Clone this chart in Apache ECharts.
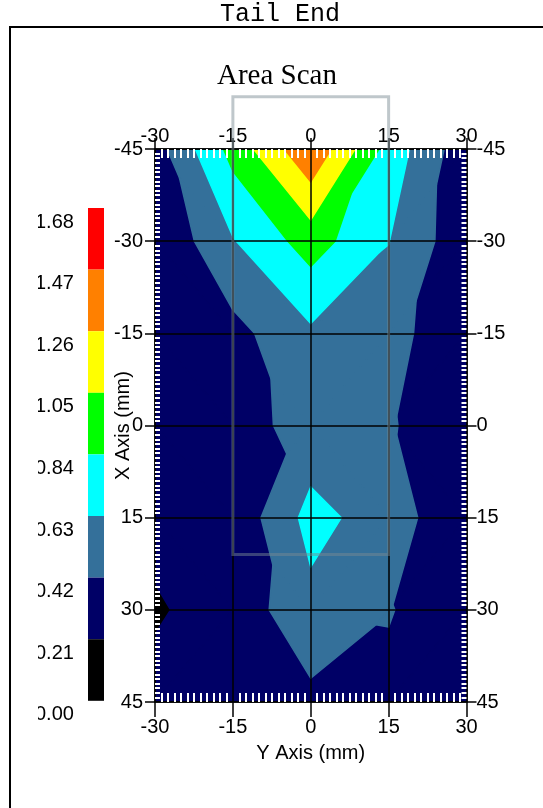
<!DOCTYPE html>
<html>
<head>
<meta charset="utf-8">
<script src="https://cdn.jsdelivr.net/npm/echarts@6/dist/echarts.min.js"></script>
<style>
html,body{margin:0;padding:0;background:#fff;}
#chart{width:543px;height:808px;}
</style>
</head>
<body>
<div id="chart"></div>
<script>
// ---- data (node grid of the area scan, mm) ----
const xNodes = [-30, -15, 0, 15, 30];          // "Y Axis (mm)"
const yNodes = [-45, -30, -15, 0, 15, 30, 45];  // "X Axis (mm)"
const rowM45 = [0.33, 0.91, 1.44, 0.755, 0.285];
const rowM30 = [0.22, 0.616, 0.933, 0.635, 0.273];
const rowM15 = [0.28, 0.353, 0.594, 0.50, 0.25];
const row0   = [0.27, 0.344, 0.49, 0.44, 0.273];
const row15  = [0.26, 0.2625, 0.70, 0.522, 0.249];
const row30  = [0.19, 0.29, 0.569, 0.43, 0.305];
const row45  = [0.265, 0.30, 0.368, 0.376, 0.30];
const levels = [0.00, 0.21, 0.42, 0.63, 0.84, 1.05, 1.26, 1.47, 1.68];
const levelColors = ['#000000', '#000066', '#34709a', '#00ffff', '#00ff00', '#ffff00', '#ff8000', '#ff0000'];
const scanAreaX = [-15, 15];
const scanAreaY = [-53.5, 21];

const values = [rowM45, rowM30, rowM15, row0, row15, row30, row45];

// ---- filled contour bands by linear interpolation on triangles ----
function clipPoly(poly, dist) {
  const out = [];
  const n = poly.length;
  for (let i = 0; i < n; i++) {
    const cur = poly[i], prev = poly[(i + n - 1) % n];
    const dc = dist(cur), dp = dist(prev);
    const cross = () => {
      const t = dp / (dp - dc);
      return {x: prev.x + t * (cur.x - prev.x), y: prev.y + t * (cur.y - prev.y), v: prev.v + t * (cur.v - prev.v)};
    };
    if (dc >= 0) {
      if (dp < 0) out.push(cross());
      out.push(cur);
    } else if (dp >= 0) {
      out.push(cross());
    }
  }
  return out;
}
function buildBands() {
  const bands = levelColors.map(() => []);
  const P = (i, j) => ({x: xNodes[i], y: yNodes[j], v: values[j][i]});
  for (let j = 0; j < yNodes.length - 1; j++) {
    for (let i = 0; i < xNodes.length - 1; i++) {
      const tl = P(i, j), tr = P(i + 1, j), bl = P(i, j + 1), br = P(i + 1, j + 1);
      const tris = Math.abs(tl.v - br.v) <= Math.abs(tr.v - bl.v)
        ? [[tl, tr, br], [tl, br, bl]]
        : [[tl, tr, bl], [tr, br, bl]];
      tris.forEach(t => {
        for (let k = 0; k < bands.length; k++) {
          let poly = clipPoly(t, p => p.v - levels[k]);
          if (poly.length < 3) continue;
          if (k < bands.length - 1) poly = clipPoly(poly, p => levels[k + 1] - p.v);
          if (poly.length >= 3) bands[k].push(poly);
        }
      });
    }
  }
  return bands;
}
const bandPolys = buildBands();
const bandData = bandPolys.map((p, k) => ({value: [(levels[k] + levels[k + 1]) / 2, k]}));

// ---- layout ----
const legendLeft = 88, legendTop = 208, legendW = 16, legendH = 61.6;
const labelFont = 'Liberation Sans';

const chart = echarts.init(document.getElementById('chart'), null, {renderer: 'canvas'});

const baseAxis = {
  type: 'value', z: 10,
  axisLine: {show: true, onZero: false, lineStyle: {color: '#000', width: 1.5}},
  axisTick: {show: true, length: 10, lineStyle: {color: '#000', width: 1.5}},
  axisLabel: {show: true, color: '#000', fontFamily: labelFont, fontSize: 20},
  splitLine: {show: false}
};
const minorAxis = (extra) => Object.assign({
  type: 'value', z: 11,
  axisLine: {show: false, onZero: false},
  axisTick: {show: false, inside: true},
  axisLabel: {show: false},
  splitLine: {show: false}
}, extra);

const legendLabels = levels.slice().reverse().map((v, i) => ({
  type: 'text', z: 50,
  x: 35, y: legendTop + i * legendH + 14,
  style: {text: v.toFixed(2), font: '20px "' + labelFont + '"', fill: '#000', textAlign: 'left', textVerticalAlign: 'middle'}
}));

const option = {
  animation: false,
  backgroundColor: '#fff',
  grid: {left: 155, top: 149, width: 311.5, height: 553, containLabel: false, outerBoundsMode: 'none'},
  xAxis: [
    Object.assign({}, baseAxis, {
      min: -30, max: 30, interval: 15, position: 'bottom',
      axisTick: {show: true, length: 15, lineStyle: {color: '#000', width: 1.5}},
      axisLabel: {color: '#000', fontFamily: labelFont, fontSize: 20, margin: 15},
      splitLine: {show: true, lineStyle: {color: '#000', width: 1.5}},
      name: 'Y Axis (mm)', nameLocation: 'middle', nameGap: 41, nameMoveOverlap: false,
      nameTextStyle: {color: '#000', fontFamily: labelFont, fontSize: 20}
    }),
    Object.assign({}, baseAxis, {
      min: -30, max: 30, interval: 15, position: 'top',
      axisTick: {show: true, length: 11, lineStyle: {color: '#000', width: 1.5}},
      axisLabel: {color: '#000', fontFamily: labelFont, fontSize: 20, margin: 3}
    }),
    minorAxis({min: -30, max: 30, interval: 15, position: 'bottom',
      minorTick: {show: true, splitNumber: 12, length: 9, lineStyle: {color: '#fff', width: 2}}}),
    minorAxis({min: -30, max: 30, interval: 15, position: 'top',
      minorTick: {show: true, splitNumber: 12, length: 9, lineStyle: {color: '#fff', width: 2}}})
  ],
  yAxis: [
    Object.assign({}, baseAxis, {
      min: -45, max: 45, interval: 15, inverse: true, position: 'left',
      axisLabel: {color: '#000', fontFamily: labelFont, fontSize: 20, margin: 12},
      splitLine: {show: true, lineStyle: {color: '#000', width: 1.5}},
      name: 'X Axis (mm)', nameLocation: 'middle', nameGap: 22, nameRotate: 90, nameMoveOverlap: false,
      nameTextStyle: {color: '#000', fontFamily: labelFont, fontSize: 20}
    }),
    Object.assign({}, baseAxis, {
      min: -45, max: 45, interval: 15, inverse: true, position: 'right',
      axisLabel: {color: '#000', fontFamily: labelFont, fontSize: 20, margin: 10}
    }),
    minorAxis({min: -45, max: 45, interval: 15, inverse: true, position: 'left',
      minorTick: {show: true, splitNumber: 20, length: 5, lineStyle: {color: '#fff', width: 2}}}),
    minorAxis({min: -45, max: 45, interval: 15, inverse: true, position: 'right',
      minorTick: {show: true, splitNumber: 20, length: 5, lineStyle: {color: '#fff', width: 2}}})
  ],
  visualMap: {
    type: 'piecewise', seriesIndex: 0, dimension: 0, orient: 'vertical',
    left: legendLeft, top: legendTop, padding: 0,
    itemWidth: legendW, itemHeight: legendH, itemGap: 0, itemSymbol: 'rect',
    showLabel: false, selectedMode: false, hoverLink: false,
    pieces: levelColors.map((c, k) => ({gte: levels[k], lt: levels[k + 1], color: c}))
  },
  series: [
    {
      type: 'custom', name: 'contour', coordinateSystem: 'cartesian2d', xAxisIndex: 0, yAxisIndex: 0,
      z: 1, clip: true, silent: true,
      data: bandData,
      renderItem: (params, api) => {
        const k = api.value(1);
        const color = api.visual('color');
        return {
          type: 'group',
          children: bandPolys[k].map(poly => ({
            type: 'polygon',
            shape: {points: poly.map(p => api.coord([p.x, p.y]))},
            style: {fill: color, stroke: color, lineWidth: 1.5, lineJoin: 'round'}
          }))
        };
      }
    },
    {
      type: 'custom', name: 'scanArea', coordinateSystem: 'cartesian2d', xAxisIndex: 0, yAxisIndex: 0,
      z: 20, clip: false, silent: true,
      data: [[0, 0]],
      renderItem: (params, api) => {
        const a = api.coord([scanAreaX[0], scanAreaY[0]]);
        const b = api.coord([scanAreaX[1], scanAreaY[1]]);
        return {
          type: 'rect',
          shape: {x: a[0], y: a[1], width: b[0] - a[0], height: b[1] - a[1]},
          style: {fill: 'none', stroke: 'rgba(122,138,147,0.48)', lineWidth: 3}
        };
      }
    }
  ],
  graphic: [
    {type: 'polyline', z: 40, shape: {points: [[10, 808], [10, 27], [543, 27]]}, style: {stroke: '#000', lineWidth: 2, fill: 'none'}},
    {type: 'text', z: 40, x: 280, y: 14, style: {text: 'Tail End', font: '25px "Liberation Mono"', fill: '#000', textAlign: 'center', textVerticalAlign: 'middle'}},
    {type: 'text', z: 40, x: 277, y: 76, style: {text: 'Area Scan', font: '29px "Liberation Serif"', fill: '#000', textAlign: 'center', textVerticalAlign: 'middle'}}
  ].concat(legendLabels).concat([
    {type: 'rect', z: 60, shape: {x: 12, y: 195, width: 26, height: 540}, style: {fill: '#fff'}}
  ])
};
chart.setOption(option);
</script>
</body>
</html>
